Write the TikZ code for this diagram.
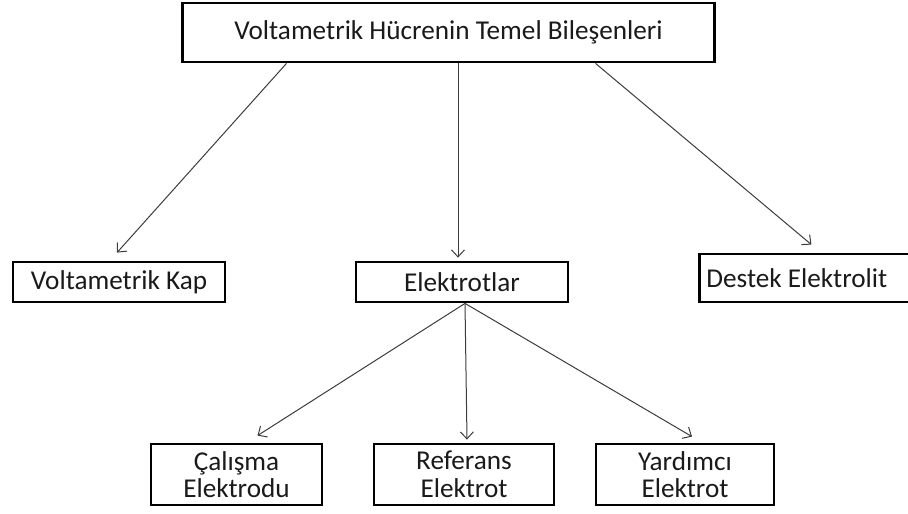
\documentclass[tikz,border=0pt]{standalone}
\usepackage{fontspec}
\setmainfont{Carlito}
\usetikzlibrary{arrows.meta}
\definecolor{linec}{HTML}{3C3C3C}
\definecolor{textc}{HTML}{1A1A1A}
\tikzset{
  ar/.style={-{Straight Barb[length=3.5pt,width=6.5pt]},line width=0.5pt,linec},
  bx/.style={draw=black,line width=1.4pt,fill=white,inner sep=0pt,align=center,text=textc,font=\fontsize{13.6}{13.8}\selectfont}
}

\begin{document}
\begin{tikzpicture}[x=0.5pt,y=-0.5pt]
\useasboundingbox (0,0) rectangle (908,513);
\clip (0,0) rectangle (908,513);
% boxes
\node[bx,minimum width=266pt,minimum height=29.5pt] (top) at (448.5,32.5) {Voltametrik Hücrenin Temel Bileşenleri};
\node[bx,minimum width=106pt,minimum height=20pt] (kap) at (119,282) {Voltametrik Kap};
\node[bx,minimum width=106pt,minimum height=20pt] (elek) at (462,282) {Elektrotlar};
\node[bx,inner xsep=3.5pt,minimum height=24pt,anchor=west] (destek) at (698,278) {\makebox[104pt][l]{Destek Elektrolit}};
\node[bx,minimum width=85.5pt,minimum height=30.5pt] (calisma) at (236.5,474.5) {Çalışma\\Elektrodu};
\node[bx,minimum width=90pt,minimum height=30.5pt] (referans) at (464,474.5) {Referans\\Elektrot};
\node[bx,minimum width=89pt,minimum height=30.5pt] (yardimci) at (685,474.5) {Yardımcı\\Elektrot};
% connectors
\draw[ar] ([xshift=-81pt]top.south) -- ([xshift=-1pt,yshift=4pt]kap.north);
\draw[ar] ([xshift=4.75pt]top.south) -- ([xshift=-2pt,yshift=1.5pt]elek.north);
\draw[ar] ([xshift=73.5pt]top.south) -- ([xshift=0.5pt,yshift=4pt]destek.north);
\draw[ar] ([xshift=1.5pt]elek.south) -- ([xshift=10.5pt,yshift=3.5pt]calisma.north);
\draw[ar] ([xshift=1.5pt]elek.south) -- ([xshift=1.5pt,yshift=1.5pt]referans.north);
\draw[ar] ([xshift=1.5pt]elek.south) -- ([xshift=3.5pt,yshift=3pt]yardimci.north);
\end{tikzpicture}
\end{document}
